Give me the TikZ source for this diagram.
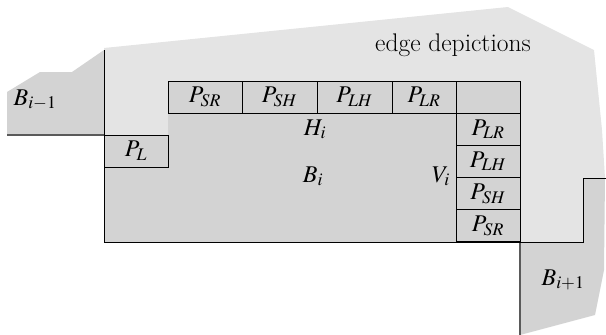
\documentclass[tikz,border=0pt]{standalone}
\usepackage{mathptmx}
\begin{document}
\begin{tikzpicture}[x=1pt,y=-1pt,
  lightfill/.style={fill={rgb,255:red,228;green,228;blue,228}},
  darkfill/.style={fill={rgb,255:red,211;green,211;blue,211}},
  edgeline/.style={draw=black,line width=0.9pt},
  softline/.style={draw={rgb,255:red,90;green,90;blue,90},line width=1.1pt},
  cell/.style={draw=black,line width=0.9pt,darkfill,minimum height=32pt,inner sep=0pt,
    font=\fontsize{24}{28}\selectfont},
  lbl/.style={inner sep=0pt,font=\fontsize{24}{28}\selectfont}]
\useasboundingbox (0,0) rectangle (606,335);
% light gray region: edge depictions
\path[lightfill] (104,48) -- (508,7) -- (594,50) -- (602,130) -- (605,178) -- (583,178)
  -- (583,242) -- (520,242) -- (520,81) -- (168,81) -- (168,135) -- (104,135) -- cycle;
% B_{i-1}
\path[darkfill] (7,135) -- (7,92) -- (40,72) -- (72,72) -- (104,50) -- (104,135) -- cycle;
% B_{i+1}
\path[darkfill] (520,242) -- (583,242) -- (583,178) -- (605,178) -- (604,270) -- (595,315)
  -- (520,335) -- cycle;
% B_i main
\path[darkfill] (104,135) -- (168,135) -- (168,81) -- (520,81) -- (520,242) -- (104,242) -- cycle;
% lines
\draw[softline] (7,135) -- (104,135);
\draw[softline] (520,242) -- (520,335);
\draw[edgeline] (104,50) -- (104,242) -- (520,242);
\draw[edgeline] (520,242) -- (583,242) -- (583,178) -- (606,178);
% boxes
\node[cell,minimum width=64pt] (pl) at (136,151) {$P_L$};
\node[cell,minimum width=74pt] (psr) at (205,97) {$P_{SR}$};
\node[cell,minimum width=75pt] (psh) at (279.5,97) {$P_{SH}$};
\node[cell,minimum width=75pt] (plh) at (354.5,97) {$P_{LH}$};
\node[cell,minimum width=64pt] (plr) at (424,97) {$P_{LR}$};
\node[cell,minimum width=64pt] (corner) at (488,97) {};
\node[cell,minimum width=64pt] (vlr) at (488,129.2) {$P_{LR}$};
\node[cell,minimum width=64pt] (vlh) at (488,161.4) {$P_{LH}$};
\node[cell,minimum width=64pt] (vsh) at (488,193.6) {$P_{SH}$};
\node[cell,minimum width=64pt] (vsr) at (488,225.8) {$P_{SR}$};
% labels
\node[lbl,anchor=base] (hi) at (315,135) {$H_i$};
\node[lbl,anchor=base] (bi) at (313,182) {$B_i$};
\node[lbl,anchor=base] (vi) at (441,182) {$V_i$};
\node[lbl,anchor=base] (bim) at (35,105) {$B_{i-1}$};
\node[lbl,anchor=base] (bip) at (563,285) {$B_{i+1}$};
\node[lbl,anchor=base,font=\fontsize{25.5}{30}\selectfont] (ed) at (453,51) {edge depictions};
\end{tikzpicture}
\end{document}
